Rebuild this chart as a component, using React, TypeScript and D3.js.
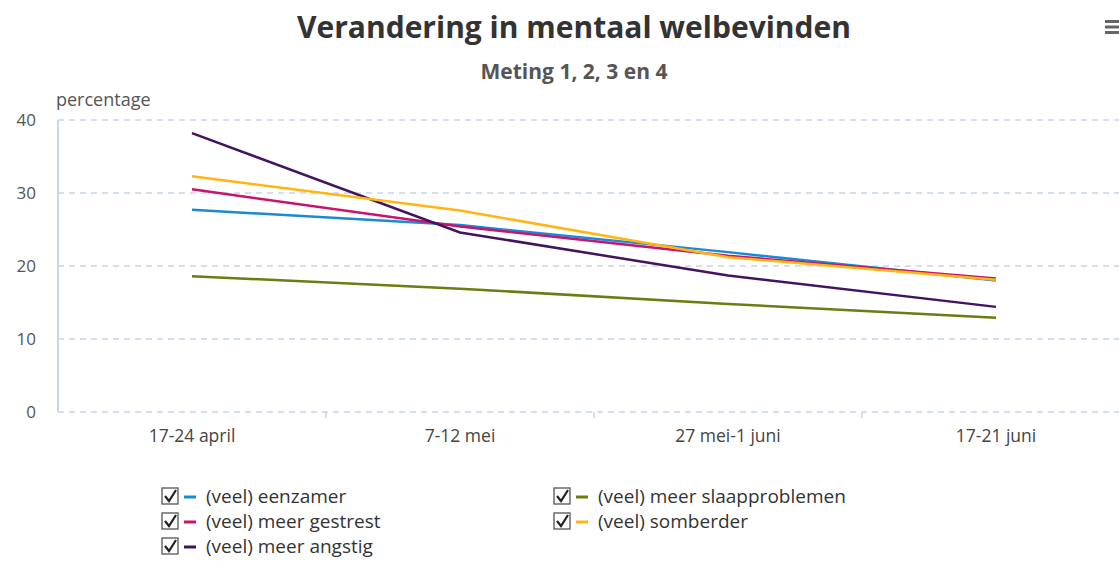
import React from "react";
import * as d3 from "d3";

const categories = ["17-24 april", "7-12 mei", "27 mei-1 juni", "17-21 juni"];
const seriesNames = [
  "(veel) eenzamer",
  "(veel) meer gestrest",
  "(veel) meer angstig",
  "(veel) meer slaapproblemen",
  "(veel) somberder",
];
const eenzamer = [27.7, 25.6, 21.9, 18.0];
const gestrest = [30.5, 25.4, 21.4, 18.3];
const angstig = [38.2, 24.6, 18.7, 14.4];
const slaap = [18.6, 16.9, 14.8, 12.9];
const somberder = [32.3, 27.6, 21.2, 18.1];
const yTicks = [0, 10, 20, 30, 40];
const colors = ["#1a8ad4", "#c8146a", "#42145f", "#6f7a10", "#ffb612"];

const seriesValues = [eenzamer, gestrest, angstig, slaap, somberder];

export default function App() {
  const W = 1119;
  const H = 562;
  const left = 58;
  const band = 268;
  const top = 120;
  const bottom = 412;
  const x = d3
    .scaleBand<string>()
    .domain(categories)
    .range([left, left + band * categories.length])
    .padding(0);
  const y = d3.scaleLinear().domain([0, 40]).range([bottom, top]);
  const line = d3
    .line<number>()
    .x((_, i) => (x(categories[i]) as number) + x.bandwidth() / 2)
    .y((d) => y(d));

  const font = "'Open Sans', 'Noto Sans', sans-serif";
  const legendPos = [
    [162, 497],
    [162, 522],
    [162, 547],
    [554, 497],
    [554, 522],
  ];
  const legendOrder = [0, 1, 2, 3, 4];

  return (
    <svg
      width={W}
      height={H}
      style={{ position: "absolute", left: 0, top: 0, background: "#fff" }}
      fontFamily={font}
    >
      <rect width={W} height={H} fill="#fff" />
      <text x={574} y={38} textAnchor="middle" fontSize={30} fontWeight={700} fill="#333">
        Verandering in mentaal welbevinden
      </text>
      <text x={574} y={79} textAnchor="middle" fontSize={21} fontWeight={700} fill="#555">
        Meting 1, 2, 3 en 4
      </text>
      {/* hamburger */}
      {[0, 1, 2].map((i) => (
        <rect key={i} x={1105} y={20 + i * 5.5} width={16} height={3} fill="#666" />
      ))}
      <text x={56} y={106} fontSize={18} fill="#555">
        percentage
      </text>
      {yTicks.map((t) => (
        <g key={t}>
          <line
            x1={left}
            x2={W}
            y1={y(t)}
            y2={y(t)}
            stroke="#c9d5e8"
            strokeWidth={1.5}
            strokeDasharray="6,5"
          />
          <text x={36} y={y(t) + 6} textAnchor="end" fontSize={17} fill="#555">
            {t}
          </text>
        </g>
      ))}
      <line x1={left} x2={left} y1={top} y2={bottom} stroke="#c9d5e8" strokeWidth={2} />
      {categories.map((c, i) => (
        <g key={c}>
          {i > 0 && (
            <line
              x1={x(c) as number}
              x2={x(c) as number}
              y1={bottom}
              y2={bottom + 6}
              stroke="#c9d5e8"
              strokeWidth={1.5}
            />
          )}
          <text
            x={(x(c) as number) + x.bandwidth() / 2}
            y={bottom + 30}
            textAnchor="middle"
            fontSize={17.5}
            fill="#444"
          >
            {c}
          </text>
        </g>
      ))}
      {seriesValues.map((vals, i) => (
        <path key={i} d={line(vals) || ""} fill="none" stroke={colors[i]} strokeWidth={2.5} />
      ))}
      {legendOrder.map((si, k) => {
        const [lx, ly] = legendPos[k];
        return (
          <g key={si} transform={`translate(${lx},${ly})`}>
            <rect x={0} y={-9} width={16} height={16} fill="#fff" stroke="#555" strokeWidth={1.3} />
            <path d="M3,-1 L7,4 L14,-7" fill="none" stroke="#222" strokeWidth={2.2} />
            <line x1={22} x2={34} y1={0} y2={0} stroke={colors[si]} strokeWidth={3} />
            <text x={44} y={6} fontSize={19} fill="#333">
              {seriesNames[si]}
            </text>
          </g>
        );
      })}
    </svg>
  );
}
